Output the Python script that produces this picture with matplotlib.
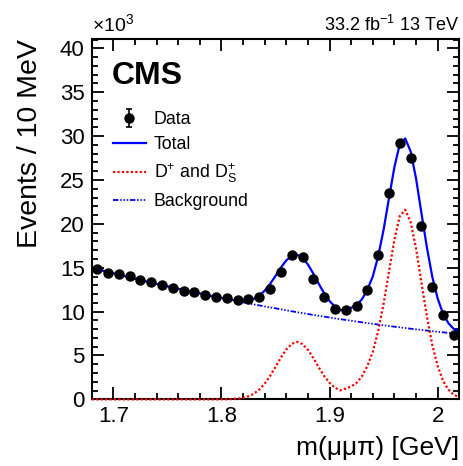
import matplotlib
matplotlib.use("Agg")
import matplotlib.pyplot as plt
from matplotlib.ticker import MultipleLocator, FuncFormatter
import numpy as np

# ==========================================
# FONTS
# ==========================================

plt.rcParams["font.family"] = ["Liberation Sans", "DejaVu Sans"]
plt.rcParams["mathtext.fontset"] = "custom"
plt.rcParams["mathtext.rm"] = "Liberation Sans"
plt.rcParams["mathtext.it"] = "Liberation Sans:italic"
plt.rcParams["mathtext.bf"] = "Liberation Sans:bold"

# ==========================================
# DATA (events in units of 10^3 per 10 MeV)
# ==========================================

bin_centres = [
    1.685, 1.695, 1.705, 1.715, 1.725, 1.735, 1.745, 1.755, 1.765, 1.775,
    1.785, 1.795, 1.805, 1.815, 1.825, 1.835, 1.845, 1.855, 1.865, 1.875,
    1.885, 1.895, 1.905, 1.915, 1.925, 1.935, 1.945, 1.955, 1.965, 1.975,
    1.985, 1.995, 2.005, 2.015,
]

data_events = [
    14.86, 14.40, 14.29, 14.02, 13.62, 13.32, 13.07, 12.73, 12.40, 12.20,
    11.93, 11.65, 11.52, 11.35, 11.40, 11.66, 12.55, 14.50, 16.45, 16.18,
    13.70, 11.63, 10.33, 10.18, 10.64, 12.50, 16.45, 23.50, 29.26, 27.50,
    19.70, 12.84, 9.60, 7.33,
]

data_errors = [
    0.12, 0.12, 0.12, 0.12, 0.12, 0.12, 0.11, 0.11, 0.11, 0.11,
    0.11, 0.11, 0.11, 0.11, 0.11, 0.11, 0.11, 0.12, 0.13, 0.13,
    0.12, 0.11, 0.10, 0.10, 0.10, 0.11, 0.13, 0.15, 0.17, 0.17,
    0.14, 0.11, 0.10, 0.09,
]

# ==========================================
# FIT CURVES (sampled every 5 MeV)
# ==========================================

curve_mass = np.linspace(1.68, 2.02, 69)

background = [
    15.00, 14.84, 14.68, 14.52, 14.37, 14.21, 14.06, 13.91, 13.75, 13.61,
    13.46, 13.31, 13.17, 13.02, 12.88, 12.74, 12.60, 12.47, 12.33, 12.20,
    12.07, 11.93, 11.80, 11.68, 11.55, 11.42, 11.30, 11.18, 11.06, 10.94,
    10.82, 10.71, 10.59, 10.48, 10.37, 10.26, 10.15, 10.04, 9.93, 9.83,
    9.73, 9.62, 9.52, 9.43, 9.33, 9.23, 9.14, 9.05, 8.96, 8.87,
    8.78, 8.69, 8.61, 8.52, 8.44, 8.36, 8.28, 8.21, 8.13, 8.05,
    7.98, 7.91, 7.84, 7.77, 7.70, 7.64, 7.57, 7.51, 7.45,
]

signal = [
    0, 0, 0, 0, 0, 0, 0, 0, 0, 0,
    0, 0, 0, 0, 0, 0, 0, 0, 0, 0,
    0, 0, 0, 0,
    0.01, 0.01, 0.04, 0.08, 0.17, 0.35, 0.65, 1.12, 1.79, 2.67,
    3.69, 4.76, 5.69, 6.33, 6.55, 6.30, 5.64, 4.71, 3.65, 2.67,
    1.88, 1.32, 1.02, 1.23, 1.47, 1.88, 2.63, 3.81, 5.40, 7.80,
    10.9, 14.6, 18.2, 20.9, 21.6, 20.2, 17.2, 13.3, 9.5, 6.2,
    3.8, 2.1, 1.1, 0.5, 0.25,
]

total = np.array(background) + np.array(signal)

# ==========================================
# FIGURE
# ==========================================

fig = plt.figure(figsize=(4.63, 4.66), dpi=100)
ax = fig.add_axes([0.198, 0.143, 0.794, 0.773])

bkg_line, = ax.plot(curve_mass, background, color="blue", lw=1.3,
                    dashes=(3, 1, 0.8, 1, 0.8, 1, 0.8, 1))
sig_line, = ax.plot(curve_mass, signal, color="red", lw=1.6,
                    linestyle=(0, (1, 1)), zorder=3, clip_on=False)
tot_line, = ax.plot(curve_mass, total, color="blue", lw=1.6)

data_plot = ax.errorbar(bin_centres, data_events, yerr=data_errors,
                        fmt="o", color="black", ms=6.5, elinewidth=1.2,
                        capsize=2.5, capthick=1.2, zorder=5)

# ==========================================
# AXES
# ==========================================

ax.set_xlim(1.68, 2.02)
ax.set_ylim(0, 41.05)

ax.xaxis.set_major_locator(MultipleLocator(0.1))
ax.xaxis.set_minor_locator(MultipleLocator(0.02))
ax.yaxis.set_major_locator(MultipleLocator(5))
ax.yaxis.set_minor_locator(MultipleLocator(1))
ax.xaxis.set_major_formatter(FuncFormatter(lambda v, p: f"{v:g}"))

ax.tick_params(which="both", direction="in", top=True, right=True,
               width=1.3, labelsize=16)
ax.tick_params(which="major", length=8.5, pad=5)
ax.tick_params(which="minor", length=4.5)

for side in ax.spines.values():
    side.set_linewidth(1.5)

ax.set_xlabel("m(μμπ) [GeV]", fontsize=19, loc="right", labelpad=6)
ax.set_ylabel("Events / 10 MeV", fontsize=20.5, loc="top", labelpad=12)

# ==========================================
# TEXT
# ==========================================

ax.text(0.0, 1.012, r"$\times$10$^{3}$", transform=ax.transAxes,
        fontsize=14, ha="left", va="bottom")
ax.text(1.0, 1.012, r"33.2 fb$^{-1}$ 13 TeV", transform=ax.transAxes,
        fontsize=13, ha="right", va="bottom")
ax.text(0.055, 0.94, "CMS", transform=ax.transAxes,
        fontsize=23, fontweight="bold", ha="left", va="top")

# ==========================================
# LEGEND
# ==========================================

leg = ax.legend(
    [data_plot, tot_line, sig_line, bkg_line],
    ["Data", "Total", r"D$^{+}$ and D$_{\mathrm{S}}^{+}$", "Background"],
    loc="upper left", bbox_to_anchor=(0.058, 0.80),
    frameon=False, fontsize=12.8, borderpad=0, borderaxespad=0,
    labelspacing=0.45, handlelength=1.85, handletextpad=0.45,
)

fig.savefig("out.png", dpi=100)
